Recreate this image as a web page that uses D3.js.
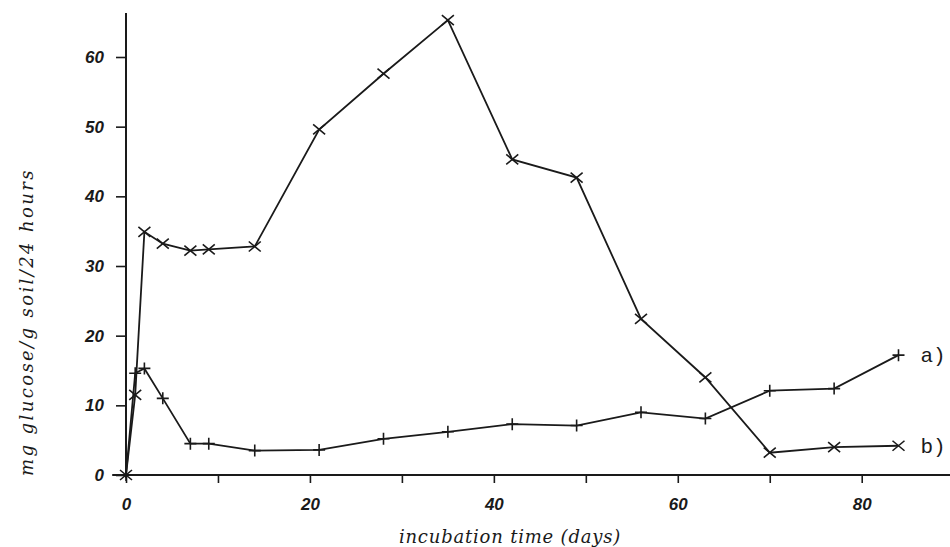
<!DOCTYPE html>
<html>
<head>
<meta charset="utf-8">
<script src="https://cdn.jsdelivr.net/npm/d3@7"></script>
<style>
  body { margin: 0; background: #fff; }
  svg { display: block; }
</style>
</head>
<body>
<div class="board"></div>
<script>
// sampling days (weekly after the first few days)
var days = [0, 1, 2, 4, 7, 9, 14, 21, 28, 35, 42, 49, 56, 63, 70, 77, 84];
// a) plus markers
var seriesA = [0, 14.6, 15.3, 11.0, 4.5, 4.5, 3.5, 3.6, 5.2, 6.2, 7.3, 7.1, 9.0, 8.1, 12.1, 12.4, 17.2];
// b) cross markers
var seriesB = [0, 11.5, 34.9, 33.2, 32.2, 32.4, 32.8, 49.6, 57.6, 65.3, 45.3, 42.7, 22.4, 14.0, 3.2, 4.0, 4.2];
var yTicks = [0, 10, 20, 30, 40, 50, 60];
var xTicks = [0, 10, 20, 30, 40, 50, 60, 70, 80];
var xLabels = [0, 20, 40, 60, 80];

var ink = '#1a1a1a';

var svg = d3.select('.board')
  .append('svg')
  .attr('width', 950)
  .attr('height', 547);

var x = d3.scaleLinear().domain([0, 89.6]).range([126, 950]);
var y = d3.scaleLinear().domain([0, 60]).range([475, 57]);

// y axis
var yAxis = d3.axisLeft(y)
  .tickValues(yTicks)
  .tickSize(10)
  .tickPadding(12)
  .tickFormat(d3.format('d'));
var gy = svg.append('g')
  .attr('transform', 'translate(' + x(0) + ',0)')
  .call(yAxis);
gy.select('.domain').remove();
gy.append('line')
  .attr('x1', 0).attr('x2', 0)
  .attr('y1', y(66.3)).attr('y2', y(-0.4))
  .attr('stroke', ink).attr('stroke-width', 2);

// x axis
var xAxis = d3.axisBottom(x)
  .tickValues(xTicks)
  .tickSize(8)
  .tickPadding(15)
  .tickFormat(function(d) { return xLabels.indexOf(d) >= 0 ? d : ''; });
var gx = svg.append('g')
  .attr('transform', 'translate(0,' + y(0) + ')')
  .call(xAxis);
gx.select('.domain').remove();
gx.append('line')
  .attr('x1', x(-1.5)).attr('x2', 950)
  .attr('y1', 0).attr('y2', 0)
  .attr('stroke', ink).attr('stroke-width', 2);

svg.selectAll('.tick line').attr('stroke', ink).attr('stroke-width', 1.6);
svg.selectAll('.tick text')
  .attr('fill', ink)
  .style('font-family', 'Liberation Sans, Arial, sans-serif')
  .style('font-style', 'italic')
  .style('font-weight', 'bold')
  .style('font-size', '17px');

// axis titles
svg.append('text')
  .attr('transform', 'translate(33,' + 322 + ') rotate(-90)')
  .attr('text-anchor', 'middle')
  .attr('fill', ink)
  .style('font-family', 'DejaVu Serif, serif')
  .style('font-style', 'italic')
  .style('font-size', '18px')
  .style('letter-spacing', '2.4px')
  .text('mg glucose/g soil/24 hours');

svg.append('text')
  .attr('x', 510)
  .attr('y', 543)
  .attr('text-anchor', 'middle')
  .attr('fill', ink)
  .style('font-family', 'DejaVu Serif, serif')
  .style('font-style', 'italic')
  .style('font-size', '18px')
  .style('letter-spacing', '0.8px')
  .text('incubation time (days)');

// lines
var line = d3.line()
  .x(function(d, i) { return x(days[i]); })
  .y(function(d) { return y(d); });

[seriesA, seriesB].forEach(function(s) {
  svg.append('path')
    .datum(s)
    .attr('d', line)
    .attr('fill', 'none')
    .attr('stroke', ink)
    .attr('stroke-width', 1.8);
});

// markers
var plus = 'M-6,0L6,0M0,-6L0,6';
var cross = 'M-6,-5L6,5M-6,5L6,-5';

svg.selectAll('.mA')
  .data(seriesA)
  .enter()
  .append('path')
  .attr('class', 'mA')
  .attr('transform', function(d, i) { return 'translate(' + x(days[i]) + ',' + y(d) + ')'; })
  .attr('d', plus)
  .attr('stroke', ink)
  .attr('stroke-width', 1.6)
  .attr('fill', 'none');

svg.selectAll('.mB')
  .data(seriesB)
  .enter()
  .append('path')
  .attr('class', 'mB')
  .attr('transform', function(d, i) { return 'translate(' + x(days[i]) + ',' + y(d) + ')'; })
  .attr('d', cross)
  .attr('stroke', ink)
  .attr('stroke-width', 1.6)
  .attr('fill', 'none');

// series labels
var last = days.length - 1;
svg.append('text')
  .attr('x', x(days[last]) + 22)
  .attr('y', y(seriesA[last]) + 7)
  .attr('fill', ink)
  .style('font-family', 'Liberation Mono, monospace')
  .style('font-size', '21px')
  .text('a)');
svg.append('text')
  .attr('x', x(days[last]) + 22)
  .attr('y', y(seriesB[last]) + 7)
  .attr('fill', ink)
  .style('font-family', 'Liberation Mono, monospace')
  .style('font-size', '21px')
  .text('b)');
</script>
</body>
</html>
